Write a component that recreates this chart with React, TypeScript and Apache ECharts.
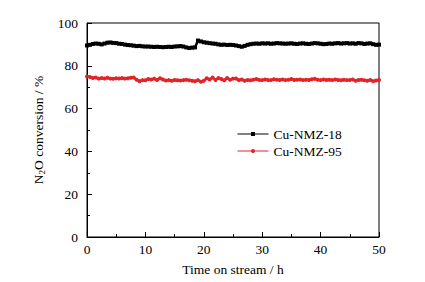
import React, { useEffect, useRef } from "react";
import * as echarts from "echarts";

const timeStep = 0.5;
const cuNmz18 = [
  89.5, 89.8, 90.2, 90.4, 90.3, 90.0, 90.4, 90.8, 90.9, 90.7, 90.6,
  90.3, 90.2, 89.9, 89.7, 89.6, 89.4, 89.2, 89.3, 89.1, 89.0,
  89.0, 88.9, 88.8, 88.9, 88.8, 88.7, 88.8, 88.9, 88.8, 89.0,
  89.1, 89.2, 89.0, 88.6, 88.3, 88.5, 88.6, 91.8, 91.4, 91.0,
  90.8, 90.6, 90.4, 90.3, 90.0, 89.8, 89.9, 89.7, 89.8, 89.7,
  89.5, 89.2, 88.9, 89.3, 89.8, 90.1, 90.3, 90.4, 90.3, 90.5,
  90.4, 90.5, 90.3, 90.4, 90.6, 90.5, 90.4, 90.3, 90.4, 90.5,
  90.3, 90.2, 90.4, 90.5, 90.3, 90.2, 90.4, 90.6, 90.5, 90.3,
  90.1, 90.2, 90.4, 90.3, 90.5, 90.6, 90.4, 90.5, 90.6, 90.4,
  90.5, 90.3, 90.6, 90.5, 90.2, 90.4, 90.5, 90.1, 89.8, 89.9,
];
const cuNmz95 = [
  75.0, 74.8, 74.3, 74.5, 74.0, 74.3, 74.1, 74.4, 74.0, 73.9, 74.2,
  74.1, 74.3, 74.0, 74.2, 74.4, 74.5, 73.5, 72.8, 73.3, 73.2,
  73.8, 73.6, 74.0, 73.4, 74.2, 73.6, 73.1, 73.3, 73.0, 73.4,
  73.2, 73.1, 73.3, 73.5, 73.2, 73.0, 72.8, 73.3, 72.5, 73.0,
  74.2, 73.6, 74.5, 73.4, 74.3, 73.8, 73.2, 74.3, 73.5, 74.0,
  74.1, 73.3, 73.6, 73.0, 73.4, 73.2, 73.5, 73.8, 73.4, 73.3,
  73.6, 73.4, 73.3, 73.7, 73.5, 73.4, 73.6, 73.3, 73.5, 73.8,
  73.4, 73.5, 73.6, 73.3, 73.5, 73.4, 73.7, 73.9, 73.5, 73.3,
  73.6, 73.4, 73.5, 73.3, 73.6, 73.4, 73.2, 73.5, 73.3, 73.4,
  73.6, 73.0, 73.4, 73.5, 73.2, 73.0, 73.4, 72.8, 73.1, 73.4,
];
const seriesNames = ["Cu-NMZ-18", "Cu-NMZ-95"];
const xTicks = { min: 0, max: 50, interval: 10 };
const yTicks = { min: 0, max: 100, interval: 20 };

const FONT = "'Liberation Serif', 'Times New Roman', serif";
const FS = 13.5;

export default function App() {
  const ref = useRef<HTMLDivElement>(null);
  useEffect(() => {
    if (!ref.current) return;
    const chart = echarts.init(ref.current, null, { renderer: "svg" });
    const toPairs = (arr: number[]) => arr.map((v, i) => [i * timeStep, v]);
    const axisCommon = {
      axisLine: { show: true, lineStyle: { color: "#000", width: 1 } },
      axisTick: { show: true, inside: true, length: 5, lineStyle: { color: "#000" } },
      minorTick: { show: true, splitNumber: 2, length: 3, lineStyle: { color: "#000" } },
      splitLine: { show: false },
      axisLabel: { color: "#000", fontFamily: FONT, fontSize: FS },
      nameTextStyle: { color: "#000", fontFamily: FONT, fontSize: FS },
    };
    chart.setOption({
      animation: false,
      backgroundColor: "#fff",
      grid: {
        left: 87, right: 46, top: 23, bottom: 45,
        show: true, borderColor: "#000", borderWidth: 1, backgroundColor: "transparent",
      },
      legend: {
        orient: "vertical",
        left: 232, top: 122,
        itemWidth: 31, itemHeight: 5, itemGap: 3,
        lineStyle: { width: 1 },
        textStyle: { color: "#000", fontFamily: FONT, fontSize: FS },
        data: seriesNames,
      },
      xAxis: {
        type: "value",
        ...xTicks,
        ...axisCommon,
        axisLabel: { ...axisCommon.axisLabel, margin: 5 },
        name: "Time on stream / h",
        nameLocation: "middle",
        nameGap: 25,
      },
      yAxis: {
        type: "value",
        ...yTicks,
        ...axisCommon,
        axisLabel: { ...axisCommon.axisLabel, margin: 9 },
        name: "N{sub|2}O conversion / %",
        nameLocation: "middle",
        nameGap: 39,
        nameTextStyle: {
          ...axisCommon.nameTextStyle,
          rich: {
            sub: { fontFamily: FONT, fontSize: 9, verticalAlign: "bottom", padding: [7, 0, 0, 0], color: "#000" },
          },
        },
      },
      series: [
        {
          name: seriesNames[0],
          type: "line",
          data: toPairs(cuNmz18),
          symbol: "rect",
          symbolSize: 4,
          lineStyle: { color: "#000", width: 2.5 },
          itemStyle: { color: "#000" },
          z: 3,
        },
        {
          name: seriesNames[1],
          type: "line",
          data: toPairs(cuNmz95),
          symbol: "circle",
          symbolSize: 4,
          lineStyle: { color: "#e3232a", width: 2.5 },
          itemStyle: { color: "#e3232a" },
          z: 2,
        },
      ],
    });
    return () => chart.dispose();
  }, []);
  return <div ref={ref} style={{ width: 425, height: 282, position: "absolute", left: 0, top: 0 }} />;
}
